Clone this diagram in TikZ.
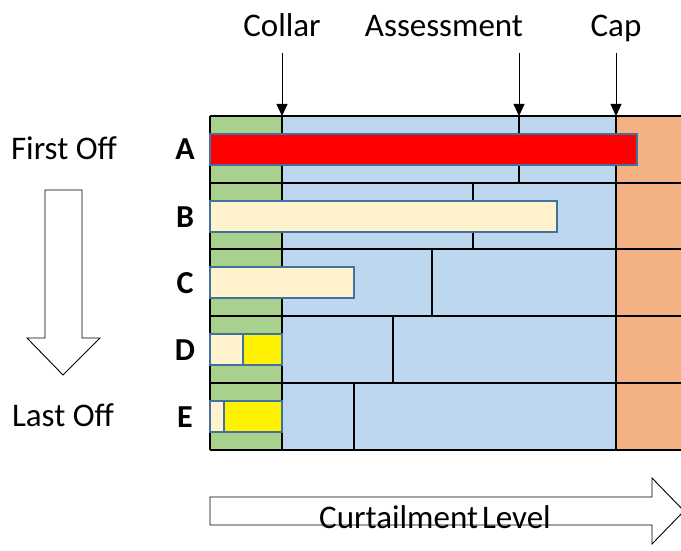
\documentclass[tikz,border=0pt]{standalone}
\usepackage{fontspec}
\setmainfont{Carlito}
\usepackage{xcolor}
\usepackage{tikz}
\usetikzlibrary{arrows.meta,positioning}

\definecolor{collarG}{HTML}{A9D18E}
\definecolor{bandB}{HTML}{BDD7EE}
\definecolor{capO}{HTML}{F4B183}
\definecolor{barFill}{HTML}{FFF2CC}
\definecolor{barLine}{HTML}{41719C}

\begin{document}
\begin{tikzpicture}[
  x=1pt, y=-1pt,
  lbl/.style={font=\fontsize{33}{40}\selectfont, inner sep=0pt, anchor=base},
  rowlbl/.style={font=\fontsize{32}{38}\selectfont\bfseries, inner sep=0pt, anchor=base},
  grid/.style={draw=black, line width=1.3pt},
  bar/.style={draw=barLine, line width=1.5pt, inner sep=0pt, outer sep=0pt, minimum height=31pt, anchor=west},
  marker/.style={-{Triangle[length=12pt,width=11pt]}, line width=0.8pt},
  blockarrow/.style={draw=black, line width=0.9pt, fill=white}
]
\useasboundingbox (0,0) rectangle (681,551);

% row bands
\foreach \r/\top/\div in {A/116/519, B/183/473, C/249/432, D/316/393, E/383/354}{
  \fill[collarG] (210,\top) rectangle (282,\top+67);
  \fill[bandB] (282,\top) rectangle (616,\top+67);
  \fill[capO] (616,\top) rectangle (681,\top+67);
  \draw[grid] (210,\top) -- (681,\top);
  \draw[grid] (\div,\top) -- (\div,\top+67);
  \node[rowlbl] (row\r) at (185,\top+44) {\r};
}
\draw[grid] (210,450) -- (681,450);
\draw[grid] (210,116) -- (210,450);
\draw[grid] (282,116) -- (282,450);
\draw[grid] (616,116) -- (616,450);

% bars
\node[bar, fill=red, minimum width=427pt] (barA) at (210,149.5) {};
\node[bar, fill=barFill, minimum width=347pt] (barB) at (210,216.5) {};
\node[bar, fill=barFill, minimum width=144pt] (barC) at (210,282.5) {};
\node[bar, fill=barFill, minimum width=33pt] (barD) at (210,349.5) {};
\node[bar, fill=yellow, minimum width=39pt, right=0pt of barD] (extD) {};
\node[bar, fill=barFill, minimum width=14pt] (barE) at (210,416.5) {};
\node[bar, fill=yellow, minimum width=58pt, right=0pt of barE] (extE) {};

% levels
\node[lbl] (collar) at (282,37) {Collar};
\node[lbl] (assess) at (444,37) {Assessment};
\node[lbl] (cap) at (616,37) {Cap};
\foreach \n/\x in {collar/282, assess/519, cap/616}{
  \coordinate (\n Top) at (\x,53);
  \coordinate (\n Tip) at (\x,116);
  \draw[marker] (\n Top) -- (\n Tip);
}

% order
\node[lbl] (first) at (64,160) {First Off};
\node[lbl] (last) at (63,426) {Last Off};
\draw[blockarrow] (45,190) -- (82,190) -- (82,338) -- (100,338) -- (63,375)
  -- (27,338) -- (45,338) -- cycle;

% curtailment
\draw[blockarrow] (210,497) -- (652,497) -- (652,478) -- (684,511) -- (652,544)
  -- (652,525) -- (210,525) -- cycle;
\node[lbl] (curt) at (435,528) {Curtailment\hspace{0.12em}Level};
\end{tikzpicture}
\end{document}
